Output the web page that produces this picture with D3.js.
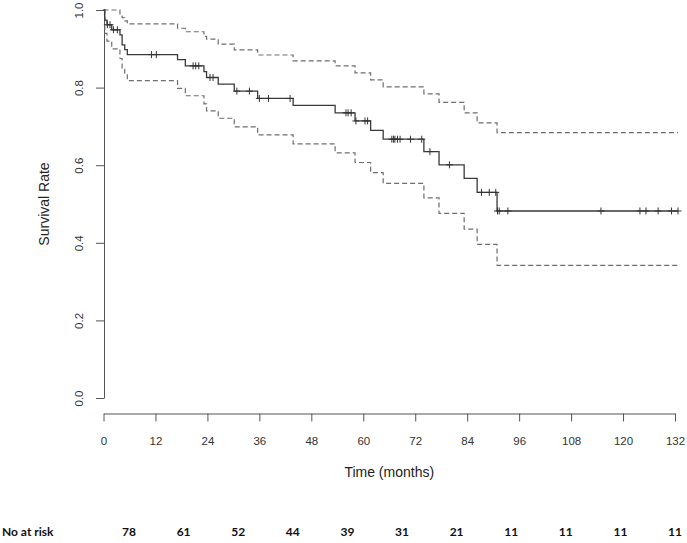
<!DOCTYPE html>
<html><head><meta charset="utf-8">
<script src="https://cdn.jsdelivr.net/npm/d3@7"></script>
<style>
html,body{margin:0;padding:0;background:#fff;}
svg{display:block;}
</style></head>
<body>
<svg id="chart" width="687" height="543"></svg>
<script>
// ---- data ----
const eventTimes = [0, 0.3, 0.8, 1.9, 3.8, 4.3, 4.9, 5.5, 17.1, 18.9, 23.2, 23.8, 26.5, 30.2, 35.6, 43.8, 53.5, 58.1, 61.7, 64.6, 74.0, 77.5, 83.3, 86.3, 90.9];
const survival   = [1.0, 0.974, 0.962, 0.949, 0.936, 0.910, 0.898, 0.885, 0.872, 0.856, 0.841, 0.826, 0.809, 0.791, 0.772, 0.754, 0.735, 0.714, 0.690, 0.667, 0.635, 0.601, 0.566, 0.530, 0.482];
const upperCI    = [1.0, 1.0, 1.0, 1.0, 0.990, 0.980, 0.972, 0.964, 0.953, 0.944, 0.932, 0.925, 0.912, 0.897, 0.884, 0.869, 0.856, 0.838, 0.820, 0.802, 0.784, 0.762, 0.735, 0.709, 0.684];
const lowerCI    = [1.0, 0.940, 0.920, 0.900, 0.875, 0.850, 0.835, 0.818, 0.798, 0.779, 0.758, 0.740, 0.721, 0.699, 0.678, 0.655, 0.632, 0.607, 0.581, 0.553, 0.516, 0.476, 0.435, 0.396, 0.342];
const censorTimes = [0.9, 1.5, 2.3, 3.2, 11.1, 12.2, 20.7, 21.3, 22.0, 24.6, 25.3, 30.8, 33.7, 36.0, 38.1, 43.1, 56.0, 56.5, 57.2, 58.3, 60.4, 61.0, 66.6, 67.0, 67.3, 67.9, 68.5, 70.9, 73.5, 75.4, 79.9, 87.3, 89.1, 90.6, 91.0, 91.4, 93.4, 114.9, 123.9, 125.3, 128.1, 131.2, 132.7];
const endTime = 132.7;
const xTicks = [0, 12, 24, 36, 48, 60, 72, 84, 96, 108, 120, 132];
const yTicks = [0.0, 0.2, 0.4, 0.6, 0.8, 1.0];
const atRisk = [78, 61, 52, 44, 39, 31, 21, 11, 11, 11, 11];
const atRiskLabel = "No at risk";
const xTitle = "Time (months)";
const yTitle = "Survival Rate";

// ---- layout ----
const svg = d3.select("#chart");
const x = d3.scaleLinear().domain([0, 132]).range([103.5, 675]);
const y = d3.scaleLinear().domain([0, 1]).range([398, 10]);
const axisColor = "#555";
const font = "'Liberation Sans', Arial, Helvetica, sans-serif";

// x axis
const xAxisY = 413.5;
const gx = svg.append("g").attr("transform", `translate(0,${xAxisY})`)
  .call(d3.axisBottom(x).tickValues(xTicks).tickFormat(d3.format("d")).tickSize(8).tickSizeOuter(0).tickPadding(15));
gx.selectAll("path,line").attr("stroke", axisColor);
gx.selectAll("text").attr("fill", "#333").style("font-family", font).style("font-size", "11.5px");

// y axis
const yAxisX = 104;
const gy = svg.append("g").attr("transform", `translate(${yAxisX},0)`)
  .call(d3.axisLeft(y).tickValues(yTicks).tickFormat(d3.format(".1f")).tickSize(8).tickSizeOuter(0));
gy.selectAll("path,line").attr("stroke", axisColor);
gy.selectAll("text")
  .attr("x", null).attr("dy", null)
  .attr("transform", "translate(-21,0) rotate(-90)")
  .attr("text-anchor", "middle")
  .attr("fill", "#333").style("font-family", font).style("font-size", "11.5px");
svg.selectAll(".domain").attr("stroke", axisColor);

// axis titles
svg.append("text")
  .attr("x", (x(0) + x(132)) / 2).attr("y", 477)
  .attr("text-anchor", "middle")
  .style("font-family", font).style("font-size", "14px").attr("fill", "#222")
  .text(xTitle);
svg.append("text")
  .attr("transform", `translate(49,${(y(0) + y(1)) / 2}) rotate(-90)`)
  .attr("text-anchor", "middle")
  .style("font-family", font).style("font-size", "14px").attr("fill", "#222")
  .text(yTitle);

// step lines
function stepData(vals) {
  const pts = eventTimes.map((t, i) => [t, vals[i]]);
  pts.push([endTime, vals[vals.length - 1]]);
  return pts;
}
const line = d3.line().x(d => x(d[0])).y(d => y(d[1])).curve(d3.curveStepAfter);

[upperCI, lowerCI].forEach(ci => {
  svg.append("path").datum(stepData(ci))
    .attr("d", line).attr("fill", "none")
    .attr("stroke", "#6e6e6e").attr("stroke-width", 1.2)
    .attr("stroke-dasharray", "5,3");
});
svg.append("path").datum(stepData(survival))
  .attr("d", line).attr("fill", "none")
  .attr("stroke", "#3a3a3a").attr("stroke-width", 1.3);

// censor marks
const bis = d3.bisectRight;
const sAt = t => survival[Math.max(0, bis(eventTimes, t) - 1)];
svg.append("g").selectAll("path").data(censorTimes).join("path")
  .attr("d", t => {
    const cx = x(t), cy = y(sAt(t));
    return `M${cx - 3.5},${cy}H${cx + 3.5}M${cx},${cy - 3.5}V${cy + 3.5}`;
  })
  .attr("stroke", "#333").attr("stroke-width", 1).attr("fill", "none");

// at-risk row
const riskFont = "Lato, 'Open Sans', sans-serif";
const rx = d3.scalePoint().domain(d3.range(atRisk.length)).range([129, 675]);
svg.append("text").attr("x", 2).attr("y", 536)
  .style("font-family", riskFont).style("font-weight", "bold").style("font-size", "12px")
  .attr("fill", "#111").text(atRiskLabel);
svg.append("g").selectAll("text").data(atRisk).join("text")
  .attr("x", (d, i) => rx(i)).attr("y", 536)
  .attr("text-anchor", "middle")
  .style("font-family", riskFont).style("font-weight", "bold").style("font-size", "12px")
  .attr("fill", "#111").text(d => d);
</script>
</body></html>
